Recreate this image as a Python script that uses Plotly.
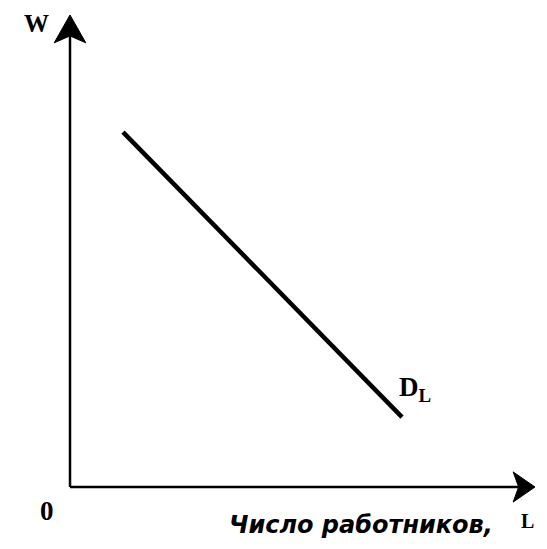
import plotly.graph_objects as go

# Кривая спроса на труд D_L (условные единицы)
L_vals = [1.14, 7.14]
W_vals = [7.52, 1.48]

X_MAX = 10
Y_MAX = 10

axis_label_y = 'W'
axis_label_x = 'Число работников,'
axis_unit_x = 'L'
origin_label = '0'
curve_label = 'D<sub>L</sub>'

fig = go.Figure()

# Линия спроса
fig.add_trace(go.Scatter(
    x=L_vals, y=W_vals,
    mode='lines',
    line=dict(color='black', width=4.5),
    hoverinfo='skip',
    showlegend=False
))

# Оси со стрелками
fig.add_shape(type='line', x0=0, y0=0, x1=X_MAX - 0.3, y1=0,
              line=dict(color='black', width=2.5))
fig.add_shape(type='line', x0=0, y0=0, x1=0, y1=Y_MAX - 0.3,
              line=dict(color='black', width=2.5))

ax, ay = 0.47, 0.32   # стрелка оси X
fig.add_shape(type='path',
              path=f'M {X_MAX},0 L {X_MAX - ax},{ay} L {X_MAX - ax * 0.75},0 '
                   f'L {X_MAX - ax},{-ay} Z',
              fillcolor='black', line=dict(color='black', width=1))
bx, by = 0.34, 0.59   # стрелка оси Y
fig.add_shape(type='path',
              path=f'M 0,{Y_MAX} L {-bx},{Y_MAX - by} L 0,{Y_MAX - by * 0.75} '
                   f'L {bx},{Y_MAX - by} Z',
              fillcolor='black', line=dict(color='black', width=1))

serif = 'Liberation Serif'
fig.add_annotation(x=-0.71, y=9.82, text=f'<b>{axis_label_y}</b>',
                   showarrow=False, xref='x', yref='y',
                   font=dict(family=serif, size=25, color='black'))
fig.add_annotation(x=-0.49, y=-0.51, text=f'<b>{origin_label}</b>',
                   showarrow=False, xref='x', yref='y',
                   font=dict(family=serif, size=27, color='black'))
fig.add_annotation(x=7.42, y=2.07, text=f'<b>{curve_label}</b>',
                   showarrow=False, xref='x', yref='y',
                   font=dict(family=serif, size=27, color='black'))
fig.add_annotation(x=6.26, y=-0.80, text=f'<b><i>{axis_label_x}</i></b>',
                   showarrow=False, xref='x', yref='y',
                   font=dict(family='DejaVu Sans', size=24, color='black'))
fig.add_annotation(x=9.83, y=-0.72, text=f'<b>{axis_unit_x}</b>',
                   showarrow=False, xref='x', yref='y',
                   font=dict(family=serif, size=20, color='black'))

# Пиксели: начало координат на (62, 479), 46.5 пикс./ед. по X, 47.2 по Y
fig.update_xaxes(range=[-62 / 46.5, (539 - 62) / 46.5], visible=False, fixedrange=True)
fig.update_yaxes(range=[-(541 - 479) / 47.2, Y_MAX + 7 / 47.2], visible=False, fixedrange=True)

fig.update_layout(
    width=539, height=541,
    margin=dict(l=0, r=0, t=0, b=0),
    plot_bgcolor='white', paper_bgcolor='white',
    showlegend=False
)

fig.write_html('out.html', config={'displayModeBar': False})
